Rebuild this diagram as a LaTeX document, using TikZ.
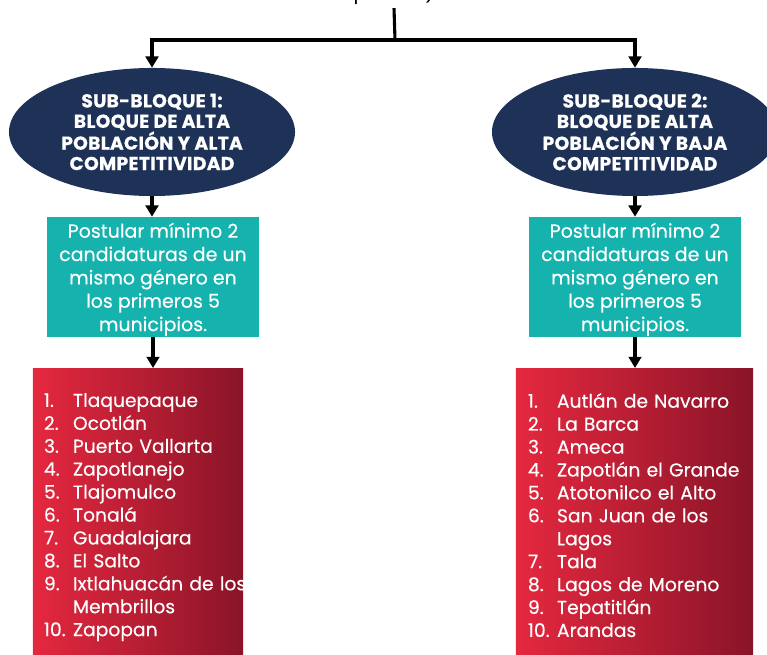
\documentclass[tikz,border=0pt]{standalone}
\usepackage{fontspec}
\setmainfont{Poppins}
\usetikzlibrary{shapes.geometric,arrows.meta}
\definecolor{navybloque}{HTML}{1E3157}
\definecolor{tealregla}{HTML}{16B3AE}
\definecolor{rojoizq}{HTML}{E5283F}
\definecolor{rojoder}{HTML}{8A1428}
\newcommand{\muni}[2]{\mbox{\makebox[0.725cm][l]{#1}#2}}
\begin{document}
\begin{tikzpicture}[x=0.025cm,y=-0.025cm,
  bloque/.style={ellipse,fill=navybloque,minimum width=7.15cm,minimum height=3.2cm,inner sep=0pt,text=white,align=center,font=\bfseries\fontsize{13.3}{14.5}\selectfont\addfontfeatures{LetterSpace=1.5,FakeBold=0.6}},
  regla/.style={rectangle,fill=tealregla,minimum width=5.3cm,minimum height=3cm,inner sep=0pt,text=white,align=center,font=\fontsize{13.5}{16.6}\selectfont\addfontfeatures{FakeBold=0.3}},
  lista/.style={rectangle,anchor=north,left color=rojoizq,right color=rojoder,text=white,align=left,inner ysep=0.62cm,font=\fontsize{13.3}{16.3}\selectfont\addfontfeatures{FakeBold=0.3}},
  linea/.style={draw,line width=2.2pt},
  flecha/.style={draw,line width=2.2pt,-{Triangle[width=9pt,length=8pt]}}]
\useasboundingbox (0,0) rectangle (767,655);
\node[anchor=base,inner sep=2pt,font=\fontsize{14}{16}\selectfont] (partido) at (394,0) {partido)};
\coordinate (split) at (395,40);
\node[bloque] (bloque1) at (152,132) {SUB-BLOQUE 1:\\BLOQUE DE ALTA\\POBLACIÓN Y ALTA\\COMPETITIVIDAD};
\node[bloque] (bloque2) at (635,132) {SUB-BLOQUE 2:\\BLOQUE DE ALTA\\POBLACIÓN Y BAJA\\COMPETITIVIDAD};
\node[regla] (regla1) at (153,277) {\rule{0pt}{14pt}Postular mínimo 2\\candidaturas de un\\mismo género en\\los primeros 5\\municipios.};
\node[regla] (regla2) at (635,277) {\rule{0pt}{14pt}Postular mínimo 2\\candidaturas de un\\mismo género en\\los primeros 5\\municipios.};
\node[lista,inner xsep=0.275cm,text width=4.7cm] (lista1) at (138,368) {\muni{1.}{Tlaquepaque}\\\muni{2.}{Ocotlán}\\\muni{3.}{Puerto Vallarta}\\\muni{4.}{Zapotlanejo}\\\muni{5.}{Tlajomulco}\\\muni{6.}{Tonalá}\\\muni{7.}{Guadalajara}\\\muni{8.}{El Salto}\\\muni{9.}{Ixtlahuacán de los}\\\muni{}{Membrillos}\\\muni{10.}{Zapopan}};
\node[lista,inner xsep=0.3cm,text width=5.325cm] (lista2) at (634.5,368) {\muni{1.}{Autlán de Navarro}\\\muni{2.}{La Barca}\\\muni{3.}{Ameca}\\\muni{4.}{Zapotlán el Grande}\\\muni{5.}{Atotonilco el Alto}\\\muni{6.}{San Juan de los}\\\muni{}{Lagos}\\\muni{7.}{Tala}\\\muni{8.}{Lagos de Moreno}\\\muni{9.}{Tepatitlán}\\\muni{10.}{Arandas}};
\path[linea] (partido.south) -- (split);
\path[flecha] (split) -| (bloque1.north);
\path[flecha] (split) -| (bloque2.north);
\path[flecha] (bloque1.south) -- (bloque1.south |- regla1.north);
\path[flecha] (bloque2.south) -- (bloque2.south |- regla2.north);
\path[flecha] (regla1.south) -- (regla1.south |- lista1.north);
\path[flecha] (regla2.south) -- (regla2.south |- lista2.north);
\end{tikzpicture}
\end{document}
